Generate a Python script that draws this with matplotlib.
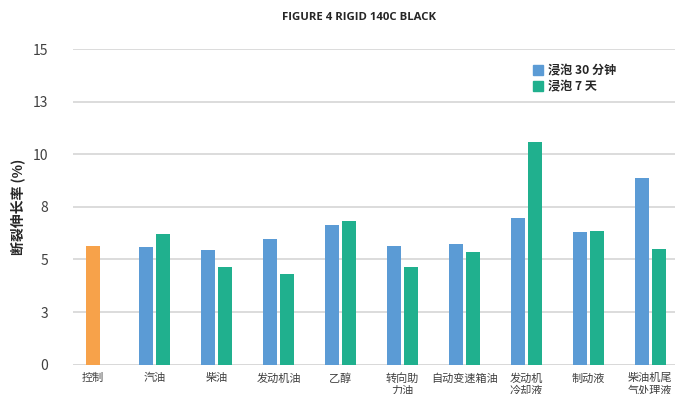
import matplotlib
matplotlib.use("Agg")
import matplotlib.pyplot as plt
from matplotlib.lines import Line2D

plt.rcParams['font.family'] = ['Noto Sans CJK SC', 'DejaVu Sans']

categories = ["控制", "汽油", "柴油", "发动机油", "乙醇", "转向助\n力油",
              "自动变速箱油", "发动机\n冷却液", "制动液", "柴油机尾\n气处理液"]
control_value = 5.65
soak_30min = [None, 5.6, 5.45, 5.95, 6.65, 5.65, 5.75, 6.95, 6.3, 8.85]
soak_7day = [None, 6.2, 4.65, 4.3, 6.85, 4.65, 5.35, 10.6, 6.35, 5.5]
series_labels = ["浸泡 30 分钟", "浸泡 7 天"]
yticks = [0, 2.5, 5, 7.5, 10, 12.5, 15]
ytick_labels = ["0", "3", "5", "8", "10", "13", "15"]

c_blue = "#5B9BD5"
c_green = "#20B08E"
c_orange = "#F7A24A"

fig = plt.figure(figsize=(6.75, 3.94), dpi=100)
ax = fig.add_axes([0.108, 0.0744, 0.892, 0.8012])

w = 0.225
off = 0.137
ax.bar(0, control_value, width=w, color=c_orange, zorder=3)
for i in range(1, len(categories)):
    ax.bar(i - off, soak_30min[i], width=w, color=c_blue, zorder=3)
    ax.bar(i + off, soak_7day[i], width=w, color=c_green, zorder=3)

ax.set_xlim(-0.323, 9.40)
ax.set_ylim(0, 15)
ax.set_yticks(yticks)
ax.set_yticklabels(ytick_labels, fontsize=10, color="#404040")
ax.set_xticks(range(len(categories)))
ax.set_xticklabels(categories, fontsize=8, color="#404040", linespacing=1.2)
ax.tick_params(axis='both', length=0, pad=6)
ax.tick_params(axis='y', pad=18)
ax.grid(axis='y', color="#D9D9D9", linewidth=1.3, zorder=0)
for s in ax.spines.values():
    s.set_visible(False)
ax.axhline(0, color="#D9D9D9", linewidth=2, zorder=2)

ax.set_ylabel("断裂伸长率 (%)", fontsize=10, fontweight='bold', color="#262626")
ax.yaxis.set_label_coords(-0.080, 0.5)
fig.text(0.532, 0.955, "FIGURE 4 RIGID 140C BLACK", ha='center', va='center',
         fontsize=8.2, fontweight='bold', color="#262626", family=['Open Sans', 'DejaVu Sans'])

handles = [Line2D([], [], marker='s', linestyle='none', markersize=6.5, color=c_blue),
           Line2D([], [], marker='s', linestyle='none', markersize=6.5, color=c_green)]
leg = ax.legend(handles, series_labels, loc='upper left', bbox_to_anchor=(0.745, 0.985),
                frameon=False, handletextpad=0.3, labelspacing=0.25,
                prop={'size': 8.7, 'weight': 'bold'}, handlelength=1.0)
for t in leg.get_texts():
    t.set_color("#262626")

fig.savefig("out.png", dpi=100)
